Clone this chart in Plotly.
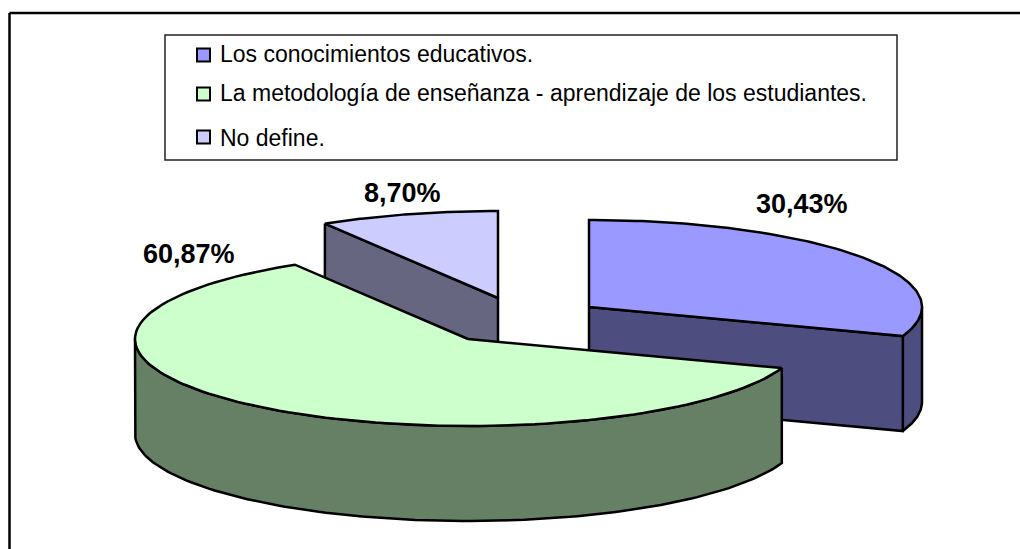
import numpy as np
import plotly.graph_objects as go

labels = [
    "Los conocimientos educativos.",
    "La metodología de enseñanza - aprendizaje de los estudiantes.",
    "No define.",
]
shares = [30.43, 60.87, 8.70]
share_text = ["30,43%", "60,87%", "8,70%"]
top_colors = ["#9999FF", "#CCFFCC", "#CCCCFF"]
wall_colors = ["#4D4D80", "#668066", "#666680"]

# page-pixel geometry of the tilted pie
RX, RY, DEPTH = 333, 87, 95
centers = [(589, 307), (468, 339), (498, 298)]
label_pos = [(802, 204), (189, 254), (402, 193)]
legend_y = [55, 94, 137]
text_y = [54, 93, 138]

FONT = "Liberation Sans, Arial, sans-serif"


def rim(center, a0, a1):
    """Points on the ellipse, angles in degrees clockwise from the top."""
    t = np.radians(np.linspace(a0, a1, 120))
    return center[0] + RX * np.sin(t), center[1] - RY * np.cos(t)


def poly(x, y, color):
    return go.Scatter(
        x=x, y=y, mode="lines", fill="toself", fillcolor=color,
        line=dict(color="black", width=2.5), hoverinfo="skip",
    )


def wall(xs, ys, color):
    """Extrude a polyline downwards by the pie depth."""
    x = np.concatenate([xs, xs[::-1], xs[:1]])
    y = np.concatenate([ys, ys[::-1] + DEPTH, ys[:1]])
    return poly(x, y, color)


cum = np.cumsum([0] + shares) / sum(shares) * 360
fig = go.Figure()

# back to front: blue, lilac, green
for i in [0, 2, 1]:
    c = centers[i]
    a0, a1 = cum[i], cum[i + 1]
    xr, yr = rim(c, a0, a1)
    if i == 0:
        xv, yv = rim(c, 90, a1)
        fig.add_trace(wall(xv, yv, wall_colors[i]))
        fig.add_trace(wall(np.array([c[0], xr[-1]]), np.array([c[1], yr[-1]]), wall_colors[i]))
    elif i == 1:
        xv, yv = rim(c, a0, 270)
        fig.add_trace(wall(xv, yv, wall_colors[i]))
    else:
        fig.add_trace(wall(np.array([xr[0], c[0]]), np.array([yr[0], c[1]]), wall_colors[i]))
    fig.add_trace(poly(
        np.concatenate([[c[0]], xr, [c[0]]]),
        np.concatenate([[c[1]], yr, [c[1]]]),
        top_colors[i],
    ))

# legend swatches
fig.add_trace(go.Scatter(
    x=[203.5] * 3, y=legend_y, mode="markers", hoverinfo="skip",
    marker=dict(symbol="square", size=13, color=top_colors,
                line=dict(color="black", width=2)),
))

annotations = []
for txt, (x, y) in zip(share_text, label_pos):
    annotations.append(dict(
        x=x, y=y, text=f"<b>{txt}</b>", showarrow=False,
        font=dict(family=FONT, size=27, color="black"),
    ))
for txt, y in zip(labels, text_y):
    annotations.append(dict(
        x=218, y=y, text=txt, showarrow=False, xanchor="left",
        font=dict(family=FONT, size=23, color="black"),
    ))

fig.update_layout(
    width=1020, height=549,
    margin=dict(l=0, r=0, t=0, b=0),
    showlegend=False,
    paper_bgcolor="white",
    plot_bgcolor="white",
    xaxis=dict(range=[0, 1020], visible=False),
    yaxis=dict(range=[549, 0], visible=False),
    annotations=annotations,
    shapes=[
        dict(type="rect", x0=165, y0=35, x1=897, y1=160, layer="below",
             line=dict(color="#222222", width=1.5)),
        dict(type="line", x0=9.5, y0=13, x1=1020, y1=13, line=dict(color="black", width=2.5)),
        dict(type="line", x0=9.5, y0=13, x1=9.5, y1=549, line=dict(color="black", width=2.5)),
    ],
)

# the page's default body margin would shift everything by 8px
fig.write_html(
    "out.html",
    config={"displayModeBar": False},
    post_script="document.body.style.margin='0';",
)
